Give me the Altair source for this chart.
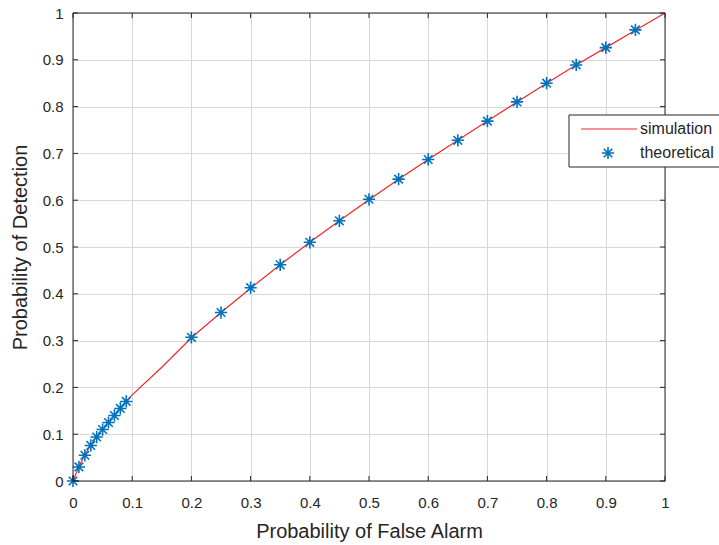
import altair as alt
import pandas as pd

# ROC curve: simulated detector vs. theoretical prediction
sim_pfa = [0, 0.01, 0.02, 0.03, 0.04, 0.05, 0.06, 0.07, 0.08, 0.09, 0.10,
           0.15, 0.20, 0.25, 0.30, 0.35, 0.40, 0.45, 0.50, 0.55, 0.60,
           0.65, 0.70, 0.75, 0.80, 0.85, 0.90, 0.95, 1.00]
sim_pd = [0, 0.031, 0.056, 0.077, 0.095, 0.111, 0.126, 0.141, 0.156, 0.170, 0.184,
          0.243, 0.306, 0.360, 0.412, 0.462, 0.510, 0.556, 0.601, 0.645, 0.687,
          0.728, 0.769, 0.810, 0.850, 0.889, 0.926, 0.963, 1.000]

theo_pfa = [0, 0.01, 0.02, 0.03, 0.04, 0.05, 0.06, 0.07, 0.08, 0.09,
            0.20, 0.25, 0.30, 0.35, 0.40, 0.45, 0.50, 0.55, 0.60, 0.65,
            0.70, 0.75, 0.80, 0.85, 0.90, 0.95]
theo_pd = [0, 0.030, 0.055, 0.076, 0.094, 0.110, 0.125, 0.140, 0.155, 0.170,
           0.307, 0.360, 0.413, 0.462, 0.510, 0.556, 0.602, 0.645, 0.687, 0.728,
           0.769, 0.810, 0.850, 0.889, 0.926, 0.964]

tick_values = [0, 0.1, 0.2, 0.3, 0.4, 0.5, 0.6, 0.7, 0.8, 0.9, 1]
legend_labels = ["simulation", "theoretical"]

W, H = 592, 468
FONT = "Liberation Sans"
AX = "#262626"
GRID = "#d8d8d8"
BLUE = "#0072BD"
RED = "#f0282a"
STAR = "M0,-1L0,1M-1,0L1,0M-0.7,-0.7L0.7,0.7M-0.7,0.7L0.7,-0.7"
STAR_SIZE = 150
TICK = 5

sim = pd.DataFrame({"pfa": sim_pfa, "pd": sim_pd})
theo = pd.DataFrame({"pfa": theo_pfa, "pd": theo_pd})
xt = pd.DataFrame({"pfa": tick_values})
yt = pd.DataFrame({"pd": tick_values})
one = pd.DataFrame({"k": [0]})

xscale = alt.Scale(domain=[0, 1], nice=False, zero=False)
yscale = alt.Scale(domain=[0, 1], nice=False, zero=False)

common_axis = dict(
    values=tick_values, format="~g", grid=True, gridColor=GRID, gridWidth=1,
    domain=False, ticks=False, tickSize=0, labelFlush=False,
    labelFont=FONT, labelFontSize=15, labelColor=AX,
    titleFont=FONT, titleFontSize=20, titleFontWeight="normal", titleColor=AX,
)
xaxis = alt.Axis(title="Probability of False Alarm", labelPadding=14, titlePadding=11, **common_axis)
yaxis = alt.Axis(title="Probability of Detection", labelPadding=10, titlePadding=12, **common_axis)

line = alt.Chart(sim).mark_line(color=RED, strokeWidth=1.2).encode(
    x=alt.X("pfa:Q", scale=xscale, axis=xaxis),
    y=alt.Y("pd:Q", scale=yscale, axis=yaxis),
)

points = alt.Chart(theo).mark_point(
    shape=STAR, size=STAR_SIZE, filled=False, color=BLUE, strokeWidth=1.6, opacity=1
).encode(x="pfa:Q", y="pd:Q")

# inward ticks on all four sides of the box
xt_bottom = alt.Chart(xt).mark_rule(color=AX, strokeWidth=1).encode(
    x="pfa:Q", y=alt.value(H), y2=alt.value(H - TICK))
xt_top = alt.Chart(xt).mark_rule(color=AX, strokeWidth=1).encode(
    x="pfa:Q", y=alt.value(0), y2=alt.value(TICK))
yt_left = alt.Chart(yt).mark_rule(color=AX, strokeWidth=1).encode(
    y="pd:Q", x=alt.value(0), x2=alt.value(TICK))
yt_right = alt.Chart(yt).mark_rule(color=AX, strokeWidth=1).encode(
    y="pd:Q", x=alt.value(W), x2=alt.value(W - TICK))

box = alt.Chart(one).mark_rect(fillOpacity=0, stroke=AX, strokeWidth=1).encode(
    x=alt.value(0), x2=alt.value(W), y=alt.value(0), y2=alt.value(H))

# legend box
lg_box = alt.Chart(one).mark_rect(fill="white", stroke=AX, strokeWidth=1).encode(
    x=alt.value(496), x2=alt.value(700), y=alt.value(102), y2=alt.value(154))
lg_line = alt.Chart(one).mark_rule(color=RED, strokeWidth=1.2).encode(
    x=alt.value(508), x2=alt.value(564), y=alt.value(116))
lg_star = alt.Chart(one).mark_point(
    shape=STAR, size=STAR_SIZE, filled=False, color=BLUE, strokeWidth=1.6, opacity=1
).encode(x=alt.value(535), y=alt.value(140))
lg_t1 = alt.Chart(one).mark_text(
    text=legend_labels[0], align="left", baseline="middle", font=FONT, fontSize=16, color=AX
).encode(x=alt.value(567), y=alt.value(116))
lg_t2 = alt.Chart(one).mark_text(
    text=legend_labels[1], align="left", baseline="middle", font=FONT, fontSize=16, color=AX
).encode(x=alt.value(567), y=alt.value(140))

chart = alt.layer(
    line, points, xt_bottom, xt_top, yt_left, yt_right, box,
    lg_box, lg_line, lg_star, lg_t1, lg_t2,
).properties(
    width=W, height=H,
    autosize=alt.AutoSizeParams(type="none"),
    padding={"left": 73, "top": 13, "right": 54, "bottom": 64},
    background="white",
).configure_view(stroke=None)

chart.save("out.html", embed_options={"renderer": "svg", "actions": False})
